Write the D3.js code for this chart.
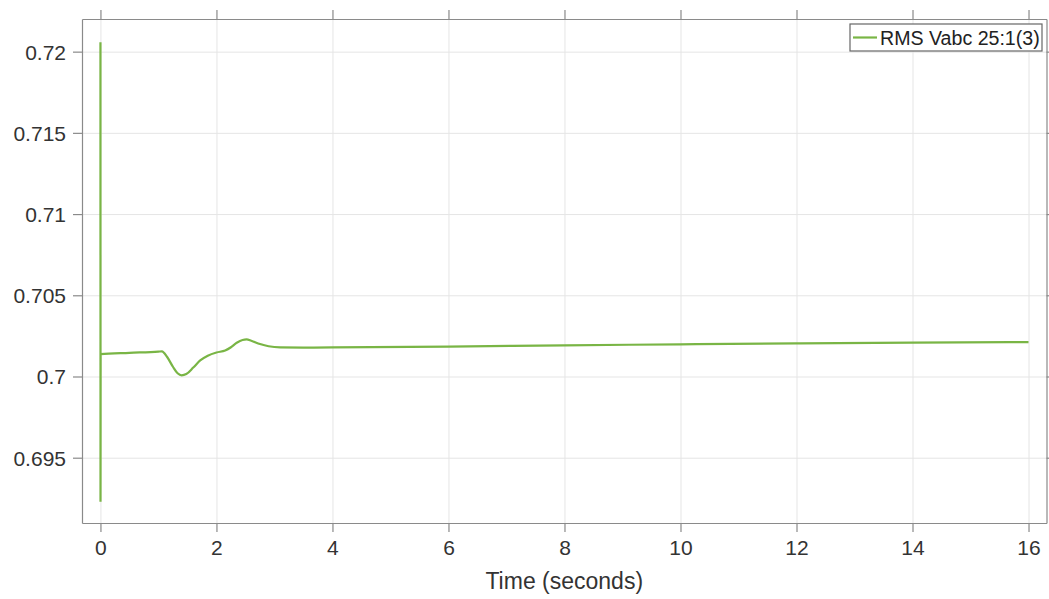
<!DOCTYPE html>
<html lang="en">
<head>
<meta charset="utf-8">
<script src="https://d3js.org/d3.v7.min.js"></script>
<style>
  *{margin:0;padding:0}
  body{background:#fff;width:1049px;height:599px;overflow:hidden}
  svg{display:block;font-family:"Liberation Sans",Arial,sans-serif}
  .grid line{stroke:#e5e5e5;stroke-width:1}
  .grid path{display:none}
  .axis path,.axis line{stroke:#8a8a8a;stroke-width:1.2}
  .axis text{fill:#333;font-size:21px}
</style>
</head>
<body>
<script>
// sampled trace of RMS Vabc 25:1(3)
const times=[0,0.001,0.003,0.5,1.0,1.06,1.15,1.25,1.33,1.40,1.48,1.6,1.72,1.85,2.0,2.15,2.25,2.35,2.45,2.52,2.6,2.75,2.9,3.1,3.5,4,6,8,10,12,14,16];
const values=[0.72058,0.69229,0.70138,0.70146,0.70153,0.70155,0.70120,0.70060,0.70020,0.70007,0.70015,0.70055,0.70099,0.70128,0.70148,0.70160,0.70180,0.70208,0.70225,0.70228,0.70220,0.70200,0.70186,0.70179,0.70178,0.70179,0.70184,0.70192,0.70198,0.70204,0.70209,0.70212];
const xTicks=[0,2,4,6,8,10,12,14,16];
const yTicks=[0.695,0.7,0.705,0.71,0.715,0.72];
const seriesName='RMS Vabc 25:1(3)';

const W=1049,H=599;
const box={left:82,right:1046.5,top:19,bottom:523};
const svg=d3.select('body').append('svg').attr('width',W).attr('height',H);

const xScale=d3.scaleLinear().domain([-0.318,16.31]).range([box.left,box.right]);
const yScale=d3.scaleLinear().domain([0.69098,0.72201]).range([box.bottom,box.top]);
const bw=box.right-box.left,bh=box.bottom-box.top;

// grid
svg.append('g').attr('class','grid')
   .attr('transform',`translate(0,${box.bottom})`)
   .call(d3.axisBottom(xScale).tickValues(xTicks).tickSize(-bh).tickFormat(''));
svg.append('g').attr('class','grid')
   .attr('transform',`translate(${box.left},0)`)
   .call(d3.axisLeft(yScale).tickValues(yTicks).tickSize(-bw).tickFormat(''));

// line
const line=d3.line().x((d,i)=>xScale(times[i])).y(d=>yScale(d)).curve(d3.curveMonotoneX);
svg.append('path').datum(values)
   .attr('d',line)
   .attr('fill','none')
   .attr('stroke','#79b545')
   .attr('stroke-width',2.2);

// axes (outward ticks on all sides)
svg.append('g').attr('class','axis')
   .attr('transform',`translate(0,${box.bottom})`)
   .call(d3.axisBottom(xScale).tickValues(xTicks).tickSize(9).tickSizeOuter(0).tickPadding(8).tickFormat(d3.format('d')));
const left=svg.append('g').attr('class','axis')
   .attr('transform',`translate(${box.left},0)`)
   .call(d3.axisLeft(yScale).tickValues(yTicks).tickSize(9).tickSizeOuter(0).tickPadding(7).tickFormat(d=>String(+d.toFixed(3))));
svg.append('g').attr('class','axis')
   .attr('transform',`translate(0,${box.top})`)
   .call(d3.axisTop(xScale).tickValues(xTicks).tickSize(9).tickSizeOuter(0).tickFormat(''));
svg.append('g').attr('class','axis')
   .attr('transform',`translate(${box.right},0)`)
   .call(d3.axisRight(yScale).tickValues(yTicks).tickSize(9).tickSizeOuter(0).tickFormat(''));
left.selectAll('text').attr('dy','0.35em');

// x label
svg.append('text')
   .attr('x',(box.left+box.right)/2).attr('y',589)
   .attr('text-anchor','middle')
   .attr('fill','#333').attr('font-size',23)
   .text('Time (seconds)');

// legend
const lg=svg.append('g').attr('transform','translate(850,24)');
lg.append('rect').attr('width',192).attr('height',27)
  .attr('fill','#fff').attr('stroke','#666').attr('stroke-width',1.2);
lg.append('line').attr('x1',3).attr('x2',27).attr('y1',13.5).attr('y2',13.5)
  .attr('stroke','#79b545').attr('stroke-width',2.2);
lg.append('text').attr('x',30).attr('y',20.5)
  .attr('fill','#222').attr('font-size',19.6)
  .text(seriesName);
</script>
</body>
</html>
